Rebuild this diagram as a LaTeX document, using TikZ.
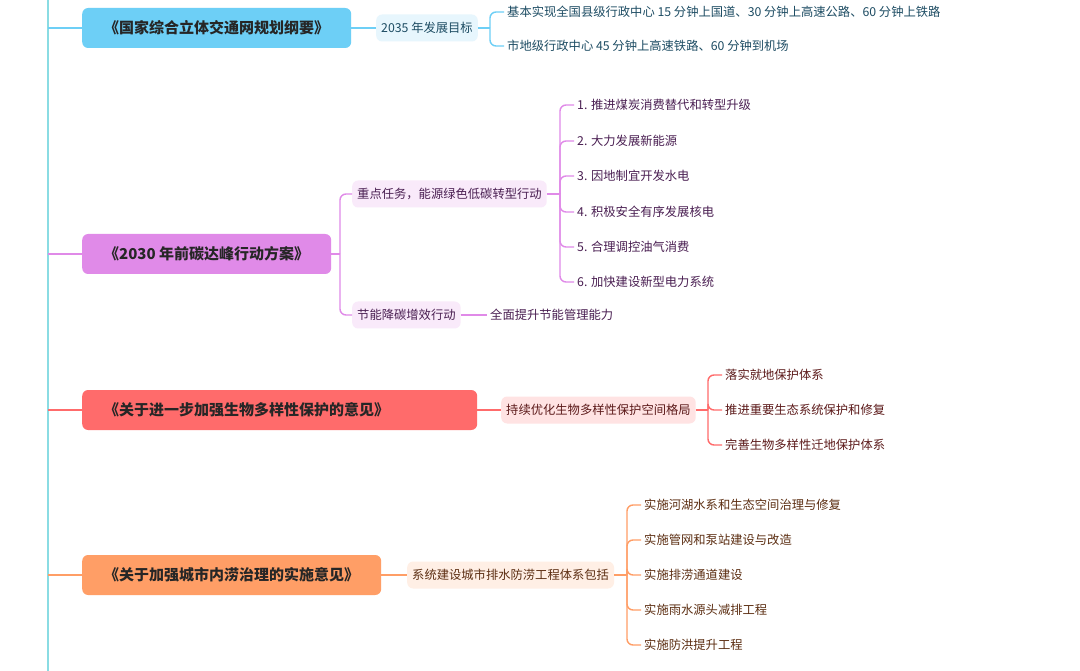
\documentclass[tikz,border=0pt]{standalone}
\usepackage{fontspec}
\setmainfont{Noto Sans CJK SC}
\definecolor{trunkc}{HTML}{8ADCE3}
\definecolor{blueM}{HTML}{6DCFF6}
\definecolor{blueS}{HTML}{E7F6FD}
\definecolor{blueT}{HTML}{1D4C63}
\definecolor{purpM}{HTML}{E08AE8}
\definecolor{purpS}{HTML}{F9EAFA}
\definecolor{purpT}{HTML}{4A1F52}
\definecolor{redM}{HTML}{FF6B6B}
\definecolor{redS}{HTML}{FFE3E3}
\definecolor{redT}{HTML}{5C1A1A}
\definecolor{orgM}{HTML}{FF9E66}
\definecolor{orgS}{HTML}{FFEFE5}
\definecolor{orgT}{HTML}{5C2E12}
\tikzset{
  topic/.style={rounded corners=6pt,minimum height=40pt,inner xsep=22pt,anchor=west,
    font=\fontsize{15}{18}\selectfont\bfseries,text=black!85},
  subtopic/.style={rounded corners=6pt,minimum height=27pt,inner xsep=5pt,anchor=west,
    font=\fontsize{12.3}{14}\selectfont},
  leaf/.style={inner sep=3pt,anchor=west,font=\fontsize{12.3}{14}\selectfont},
  link/.style={line width=1.4pt},
  bar/.style={line width=1.4pt,rounded corners=6pt}
}
\begin{document}
\begin{tikzpicture}[x=1pt,y=-1pt]
    \useasboundingbox[fill=white] (0,0) rectangle (1080,671);
    \coordinate (trunk) at (48,0);
    \draw[trunkc,line width=2pt] (trunk) -- (48,671);
    % 交通网
    \node[topic,fill=blueM] at (82,28) (m1) {《国家综合立体交通网规划纲要》};
    \node[subtopic,fill=blueS,text=blueT] at (376,28) (s1) {2035 年发展目标};
    \node[leaf,text=blueT] at (504,12) (l11) {基本实现全国县级行政中心 15 分钟上国道、30 分钟上高速公路、60 分钟上铁路};
    \node[leaf,text=blueT] at (504,46) (l12) {市地级行政中心 45 分钟上高速铁路、60 分钟到机场};
    \coordinate (j1) at (490,28);
    \draw[link,blueM] (trunk |- m1.west) -- (m1.west);
    \draw[link,blueM] (m1.east) -- (s1.west);
    \draw[link,blueM] (s1.east) -- (j1);
    \draw[bar,blueM] (j1) |- (l11.west);
    \draw[bar,blueM] (j1) |- (l12.west);
    % 碳达峰
    \node[topic,fill=purpM] at (82,254) (m2) {《2030 年前碳达峰行动方案》};
    \node[subtopic,fill=purpS,text=purpT] at (352,194) (s21) {重点任务，能源绿色低碳转型行动};
    \node[subtopic,fill=purpS,text=purpT] at (352,315) (s22) {节能降碳增效行动};
    \node[leaf,text=purpT] at (574,105) (l21) {1. 推进煤炭消费替代和转型升级};
    \node[leaf,text=purpT] at (574,141) (l22) {2. 大力发展新能源};
    \node[leaf,text=purpT] at (574,176) (l23) {3. 因地制宜开发水电};
    \node[leaf,text=purpT] at (574,212) (l24) {4. 积极安全有序发展核电};
    \node[leaf,text=purpT] at (574,247) (l25) {5. 合理调控油气消费};
    \node[leaf,text=purpT] at (574,282) (l26) {6. 加快建设新型电力系统};
    \node[leaf,text=purpT] at (487,315) (l27) {全面提升节能管理能力};
    \coordinate (j2) at (340,254);
    \coordinate (j21) at (560,194);
    \draw[link,purpM] (trunk |- m2.west) -- (m2.west);
    \draw[link,purpM] (m2.east) -- (j2);
    \draw[bar,purpM] (j2) |- (s21.west);
    \draw[bar,purpM] (j2) |- (s22.west);
    \draw[link,purpM] (s21.east) -- (j21);
    \draw[bar,purpM] (j21) |- (l21.west);
    \draw[bar,purpM] (j21) |- (l22.west);
    \draw[bar,purpM] (j21) |- (l23.west);
    \draw[bar,purpM] (j21) |- (l24.west);
    \draw[bar,purpM] (j21) |- (l25.west);
    \draw[bar,purpM] (j21) |- (l26.west);
    \draw[link,purpM] (s22.east) -- (l27.west);
    % 生物多样性
    \node[topic,fill=redM,text width=351pt,align=left] at (82,410) (m3) {《关于进一步加强生物多样性保护的意见》};
    \node[subtopic,fill=redS,text=redT] at (501,410) (s3) {持续优化生物多样性保护空间格局};
    \node[leaf,text=redT] at (722,375) (l31) {落实就地保护体系};
    \node[leaf,text=redT] at (722,410) (l32) {推进重要生态系统保护和修复};
    \node[leaf,text=redT] at (722,445) (l33) {完善生物多样性迁地保护体系};
    \coordinate (j3) at (708,410);
    \draw[link,redM] (trunk |- m3.west) -- (m3.west);
    \draw[link,redM] (m3.east) -- (s3.west);
    \draw[link,redM] (s3.east) -- (j3);
    \draw[bar,redM] (j3) |- (l31.west);
    \draw[bar,redM] (j3) |- (l32.west);
    \draw[bar,redM] (j3) |- (l33.west);
    % 内涝治理
    \node[topic,fill=orgM] at (82,575) (m4) {《关于加强城市内涝治理的实施意见》};
    \node[subtopic,fill=orgS,text=orgT] at (407,575) (s4) {系统建设城市排水防涝工程体系包括};
    \node[leaf,text=orgT] at (641,505) (l41) {实施河湖水系和生态空间治理与修复};
    \node[leaf,text=orgT] at (641,540) (l42) {实施管网和泵站建设与改造};
    \node[leaf,text=orgT] at (641,575) (l43) {实施排涝通道建设};
    \node[leaf,text=orgT] at (641,610) (l44) {实施雨水源头减排工程};
    \node[leaf,text=orgT] at (641,645) (l45) {实施防洪提升工程};
    \coordinate (j4) at (627,575);
    \draw[link,orgM] (trunk |- m4.west) -- (m4.west);
    \draw[link,orgM] (m4.east) -- (s4.west);
    \draw[link,orgM] (s4.east) -- (j4);
    \draw[bar,orgM] (j4) |- (l41.west);
    \draw[bar,orgM] (j4) |- (l42.west);
    \draw[bar,orgM] (j4) |- (l43.west);
    \draw[bar,orgM] (j4) |- (l44.west);
    \draw[bar,orgM] (j4) |- (l45.west);
\end{tikzpicture}
\end{document}
